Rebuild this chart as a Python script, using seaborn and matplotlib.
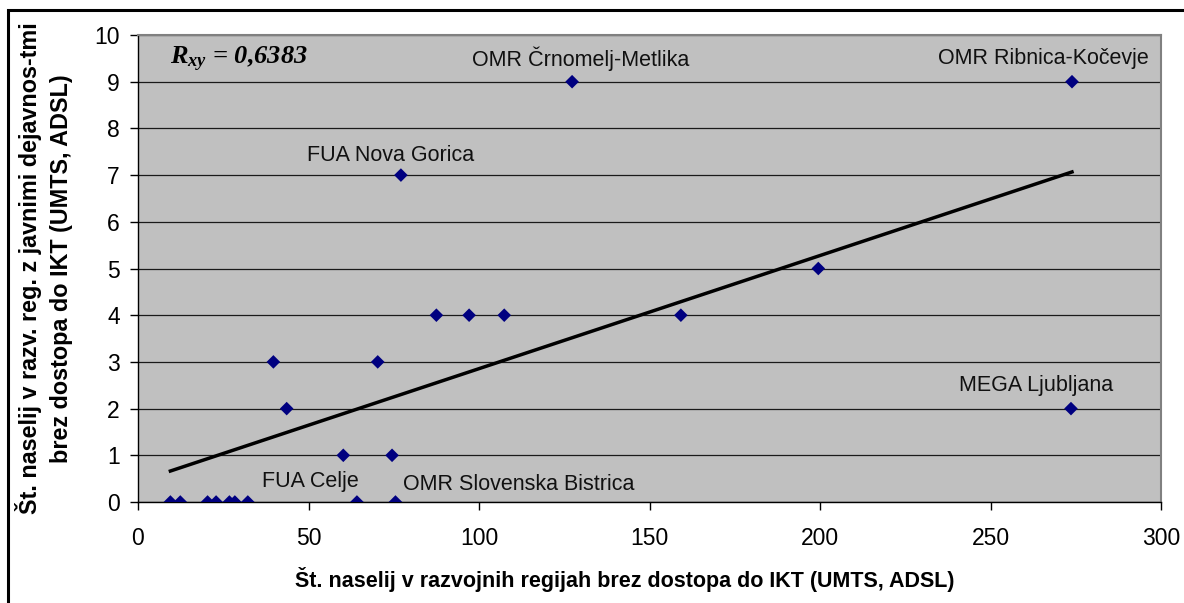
import matplotlib
matplotlib.use("Agg")
import matplotlib.pyplot as plt
import matplotlib.patches as mpatches
from matplotlib.transforms import Bbox, TransformedBbox
import numpy as np
import pandas as pd
import seaborn as sns

# Settlements without ICT access per development region (x) vs.
# settlements with public activities without ICT access (y)
x_vals = [9.5, 12.4, 20.4, 22.9, 26.8, 28.4, 32.2, 64.2, 75.5,
          60.2, 74.5, 43.6, 39.7, 70.3, 87.5, 97.1, 107.4,
          159.2, 199.5, 273.6, 127.3, 273.9, 77.1]
y_vals = [0, 0, 0, 0, 0, 0, 0, 0, 0,
          1, 1, 2, 3, 3, 4, 4, 4,
          4, 5, 2, 9, 9, 7]

# Named regions: label, x, y, text offset in pixels
label_names = ["OMR Črnomelj-Metlika", "OMR Ribnica-Kočevje", "FUA Nova Gorica",
               "MEGA Ljubljana", "FUA Celje", "OMR Slovenska Bistrica"]
label_x = [127.3, 273.9, 77.1, 273.6, 64.2, 75.5]
label_y = [9, 9, 7, 2, 0, 0]
label_dx = [9, -29, -10, -35, -47, 123]
label_dy = [23, 23, 20, 23, 20, 17]

x_ticks = [0, 50, 100, 150, 200, 250, 300]
y_ticks = list(range(0, 11))
x_title = "Št. naselij v razvojnih regijah brez dostopa do IKT (UMTS, ADSL)"
y_title = "Št. naselij v razv. reg. z javnimi dejavnos-tmi\nbrez dostopa do IKT (UMTS, ADSL)"
r_text = "0,6383"

plt.rcParams["font.family"] = ["Liberation Sans", "DejaVu Sans"]
plt.rcParams["mathtext.fontset"] = "custom"
plt.rcParams["mathtext.it"] = "Liberation Serif:italic:bold"
plt.rcParams["mathtext.rm"] = "Liberation Serif:italic:bold"
plt.rcParams["mathtext.bf"] = "Liberation Serif:italic:bold"

W, H = 1184, 603
fig = plt.figure(figsize=(W / 100, H / 100), dpi=100)
fig.patch.set_facecolor("white")
ax = fig.add_axes([138 / W, 1 - 502 / H, (1161 - 138) / W, (502 - 35) / H])
ax.set_facecolor("#C0C0C0")

df = pd.DataFrame({"x": x_vals, "y": y_vals})

# Trend line (least squares) across the data range
sns.regplot(data=df, x="x", y="y", scatter=False, ci=None, truncate=True,
            line_kws={"color": "black", "lw": 2.5, "zorder": 3}, ax=ax)
sns.scatterplot(data=df, x="x", y="y", marker="D", s=48, color="#000080",
                edgecolor="none", zorder=4, ax=ax)

for name, lx, ly, dx, dy in zip(label_names, label_x, label_y, label_dx, label_dy):
    ax.annotate(name, (lx, ly), xytext=(dx, dy), textcoords="offset pixels",
                ha="center", va="center", fontsize=15.5, color="#111111",
                zorder=5)

ax.set_xlim(0, 300)
ax.set_ylim(0, 10)
ax.set_xticks(x_ticks)
ax.set_yticks(y_ticks)
ax.tick_params(axis="both", direction="out", length=6, width=1,
               labelsize=16.5, colors="black", pad=7)
ax.tick_params(axis="x", pad=12)

ax.yaxis.grid(True, color="#1a1a1a", lw=0.9)
ax.xaxis.grid(False)
ax.set_axisbelow(True)

for side in ["top", "right"]:
    ax.spines[side].set_color("#808080")
    ax.spines[side].set_linewidth(1.5)
for side in ["left", "bottom"]:
    ax.spines[side].set_color("black")
    ax.spines[side].set_linewidth(1.0)

ax.set_xlabel(x_title, fontsize=15.5, fontweight="bold")
ax.xaxis.set_label_coords((625 - 138) / (1161 - 138), (502 - 579) / (502 - 35))
ax.xaxis.label.set_va("center")

ax.set_ylabel(y_title, fontsize=16.8, fontweight="bold", linespacing=1.45)
ax.yaxis.set_label_coords((44 - 138) / (1161 - 138), 0.5)
ax.yaxis.label.set_va("center")
ax.yaxis.label.set_clip_box(TransformedBbox(Bbox([[0, 0], [1, 1 - 11 / H]]), fig.transFigure))
ax.yaxis.label.set_clip_on(True)

ax.text(32 / (1161 - 138), (502 - 59) / (502 - 35), r"$R_{xy}$ = " + r_text,
        transform=ax.transAxes, fontsize=19, family="Liberation Serif",
        style="italic", weight="bold", va="center", ha="left", zorder=6)

# Outer chart frame
fig.patches.append(mpatches.Rectangle((8 / W, -0.5), 1.5, 1.5 - 10 / H,
                                      transform=fig.transFigure, fill=False,
                                      edgecolor="black", lw=2.2))

fig.savefig("out.png", dpi=100, facecolor="white")
